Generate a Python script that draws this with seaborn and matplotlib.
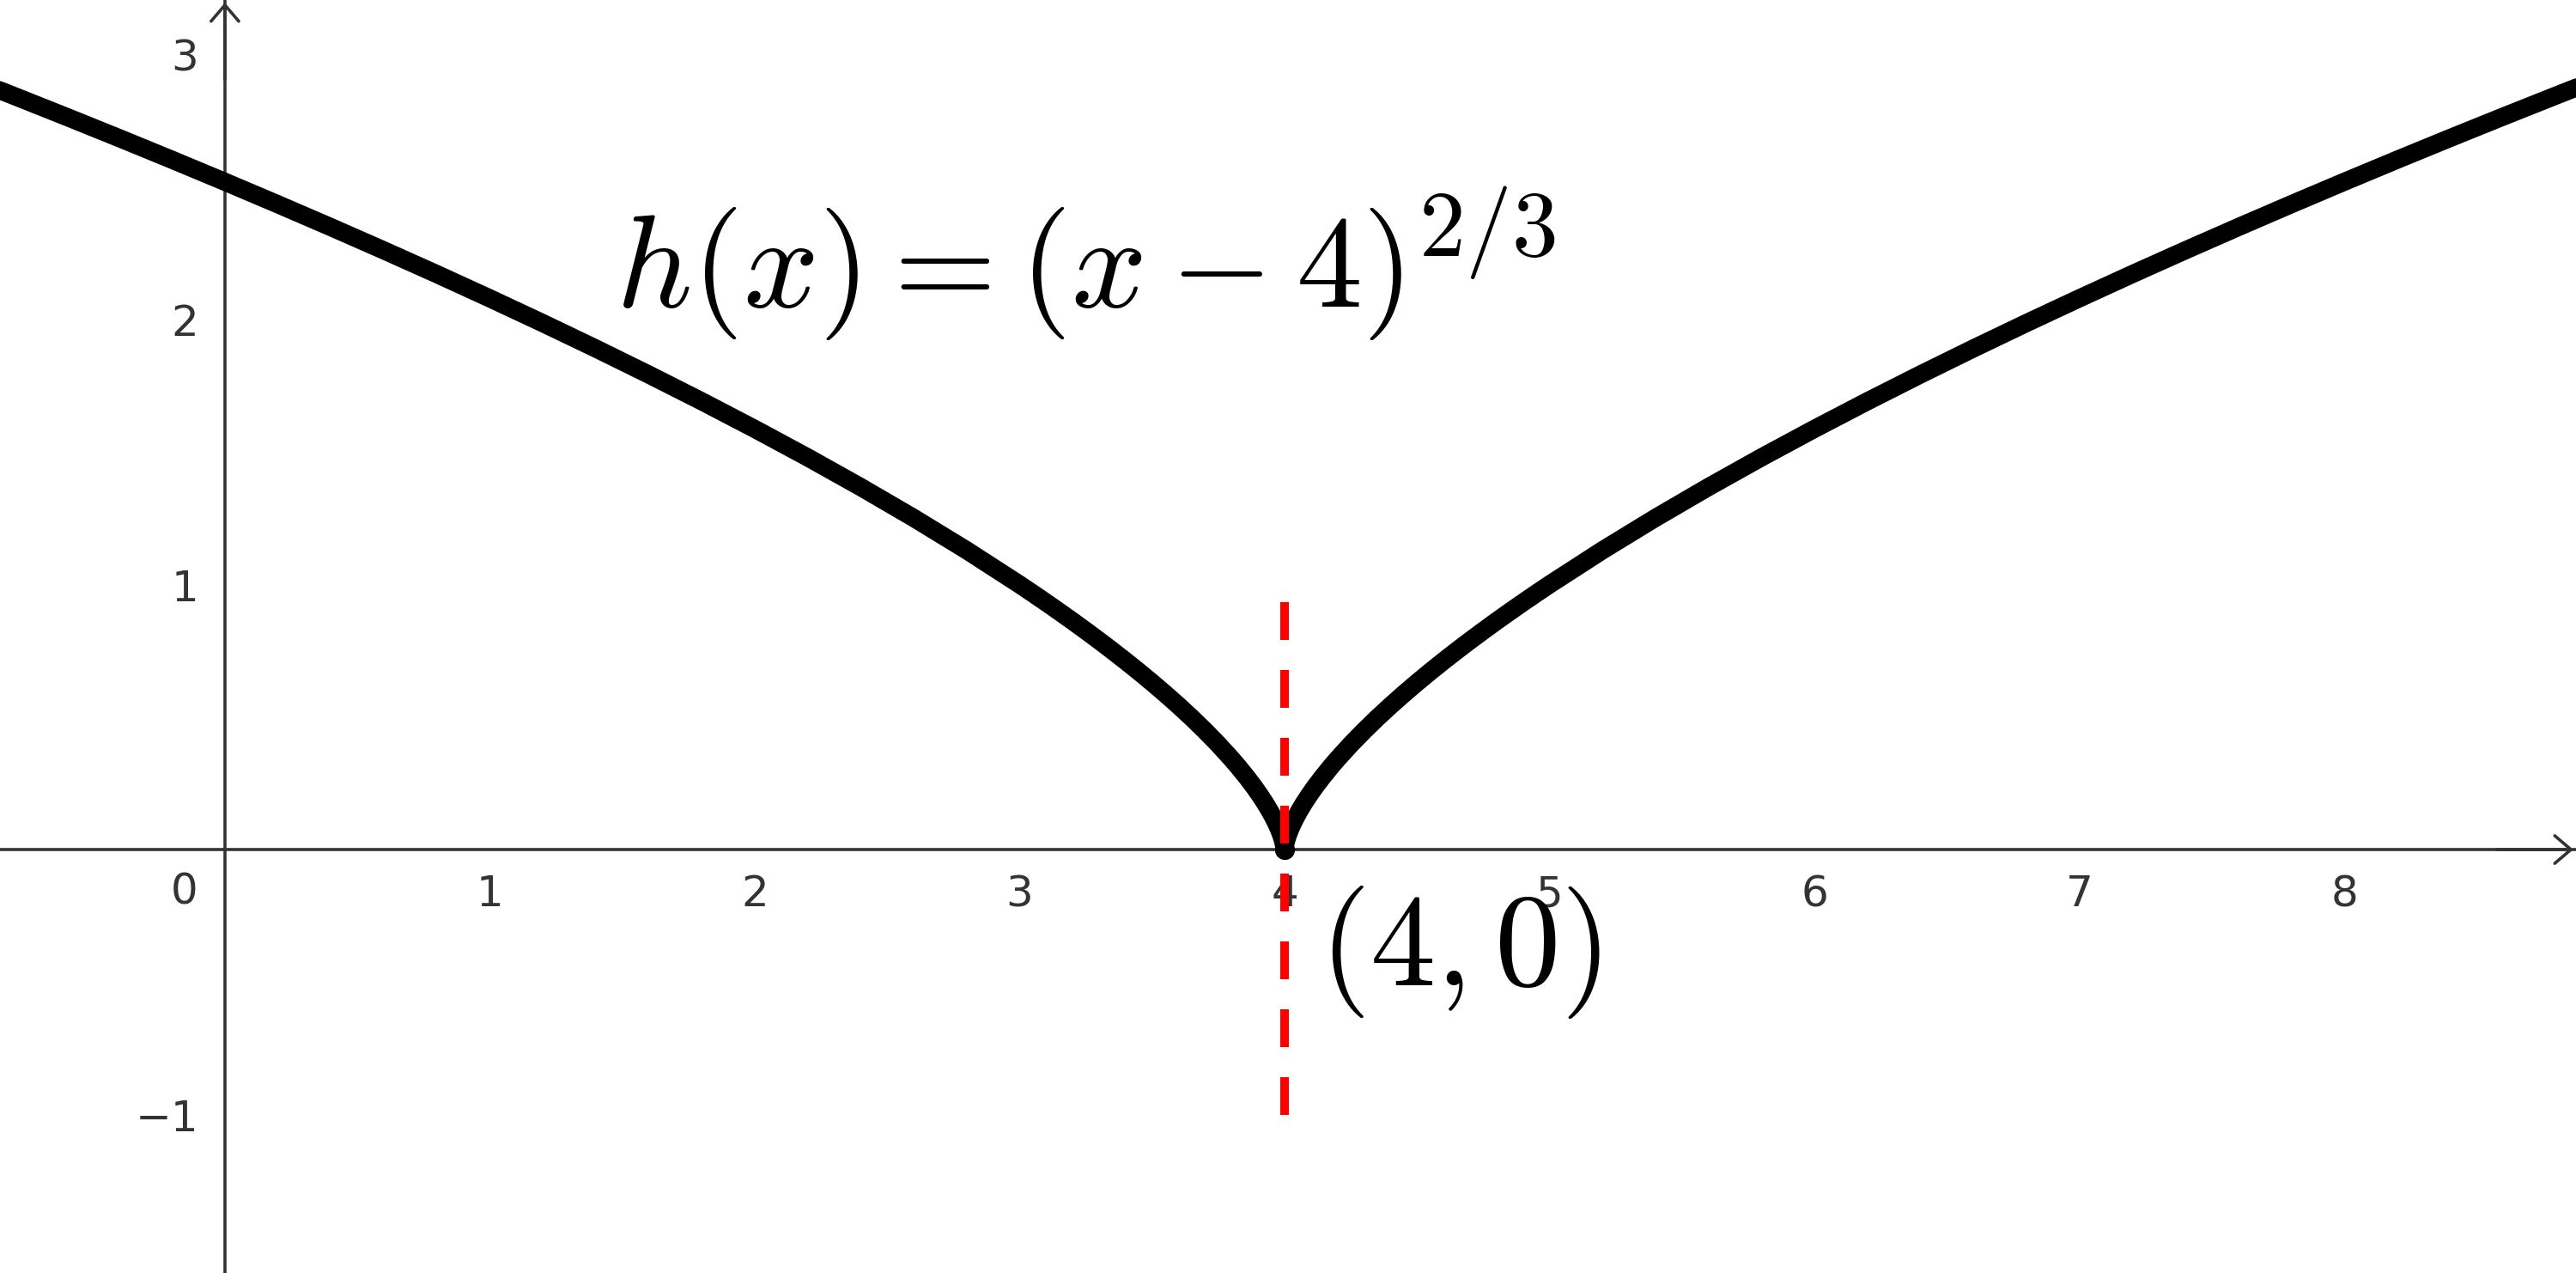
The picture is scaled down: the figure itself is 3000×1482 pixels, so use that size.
import matplotlib
matplotlib.use('Agg')
import matplotlib.pyplot as plt
import seaborn as sns
import pandas as pd

# h(x) = (x-4)^(2/3) is symmetric about x = 4: distance from 4 and height
dist_from_4 = [0.0, 0.0000126, 0.000101, 0.000344, 0.00082, 0.001624, 0.002846, 0.004593,
               0.00699, 0.01016, 0.01429, 0.01954, 0.02615, 0.03437, 0.04453, 0.05702,
               0.0723, 0.0909, 0.1136, 0.1413, 0.175,
               0.2, 0.25, 0.3, 0.35, 0.4, 0.45, 0.5, 0.55, 0.6, 0.65, 0.7, 0.75, 0.8,
               0.85, 0.9, 0.95, 1.0,
               1.2, 1.4, 1.6, 1.8, 2.0, 2.2, 2.4, 2.6, 2.8, 3.0, 3.2, 3.4, 3.6, 3.8,
               4.0, 4.2, 4.4, 4.6, 4.8, 4.9]
height = [0.0, 0.00054, 0.00217, 0.00491, 0.00877, 0.01382, 0.02008, 0.02763,
          0.03656, 0.04692, 0.0589, 0.0726, 0.08811, 0.1057, 0.1256, 0.1481,
          0.1736, 0.2021, 0.2346, 0.2712, 0.3129,
          0.342, 0.39685, 0.44814, 0.49664, 0.54288, 0.58724, 0.62996, 0.67128,
          0.71138, 0.75037, 0.78837, 0.82548, 0.86177, 0.89732, 0.93217, 0.96637, 1.0,
          1.12924, 1.25146, 1.36798, 1.47973, 1.5874, 1.69154, 1.79256, 1.89083,
          1.9866, 2.08008, 2.17156, 2.2611, 2.3489, 2.4351, 2.51984, 2.6032,
          2.6852, 2.7659, 2.8455, 2.8849]

left_x = [4 - d for d in dist_from_4]
right_x = [4 + d for d in dist_from_4]

# cusp point and the red dashed marker line
cusp_x = [4]
cusp_y = [0]
dash_x = [4, 4]
dash_y = [-1.0, 0.935]

xticks = [1, 2, 3, 4, 5, 6, 7, 8]
yticks = [-1, 1, 2, 3]

func_label = r'$h(x) = (x-4)^{2/3}$'
point_label = r'$(4, 0)$'

sns.set_style('white')
plt.rcParams['font.family'] = ['DejaVu Sans']
plt.rcParams['mathtext.fontset'] = 'cm'
plt.rcParams['axes.unicode_minus'] = True

axis_col = '#333333'
xmin, xmax = -0.849, 8.875
ymin, ymax = -1.598, 3.206

fig = plt.figure(figsize=(15, 7.41), dpi=200)
ax = fig.add_axes([0, 0, 1, 1])

left = pd.DataFrame({'x': left_x, 'y': height})
right = pd.DataFrame({'x': right_x, 'y': height})
for branch in [left, right]:
    sns.lineplot(data=branch, x='x', y='y', sort=False, estimator=None, color='black',
                 linewidth=7.6, solid_capstyle='round', solid_joinstyle='round', ax=ax, zorder=3)
sns.scatterplot(x=cusp_x, y=cusp_y, color='black', s=70, linewidth=0, ax=ax, zorder=4)
ax.plot(dash_x, dash_y, color='#ff0000', linewidth=3.6, dashes=(4.4, 3.5),
        dash_capstyle='butt', zorder=5)

ax.set_xlim(xmin, xmax)
ax.set_ylim(ymin, ymax)
ax.set_xlabel('')
ax.set_ylabel('')

# axes through the origin
for side in ['top', 'right']:
    ax.spines[side].set_visible(False)
ax.spines['left'].set_position(('data', 0))
ax.spines['bottom'].set_position(('data', 0))
for side in ['left', 'bottom']:
    ax.spines[side].set_color(axis_col)
    ax.spines[side].set_linewidth(1.3)
    ax.spines[side].set_zorder(1)

ax.set_xticks(xticks)
ax.set_yticks(yticks)
ax.set_xticklabels([str(t) for t in xticks])
ax.set_yticklabels(['\u2212' + str(-t) if t < 0 else str(t) for t in yticks])
ax.tick_params(axis='both', direction='out', length=4.6, width=1.3, color=axis_col,
               labelsize=18, labelcolor=axis_col)
ax.tick_params(axis='x', pad=5.5)
ax.tick_params(axis='y', pad=6.5)
ax.text(-0.152, -0.159, '0', fontsize=18, color=axis_col, ha='center', va='center')

# arrow heads
ax.annotate('', xy=(0, ymax - 0.01), xytext=(0, ymax - 0.3),
            arrowprops=dict(arrowstyle='->,head_length=0.34,head_width=0.29', color=axis_col,
                            lw=1.3, shrinkA=0, shrinkB=0, mutation_scale=20))
ax.annotate('', xy=(xmax - 0.01, 0), xytext=(xmax - 0.3, 0),
            arrowprops=dict(arrowstyle='->,head_length=0.34,head_width=0.29', color=axis_col,
                            lw=1.3, shrinkA=0, shrinkB=0, mutation_scale=20))

ax.text(1.475, 2.045, func_label, fontsize=55.5, color='black', ha='left', va='baseline')
ax.text(4.13, -0.512, point_label, fontsize=55, color='black', ha='left', va='baseline')

fig.savefig('out.png', dpi=200)
